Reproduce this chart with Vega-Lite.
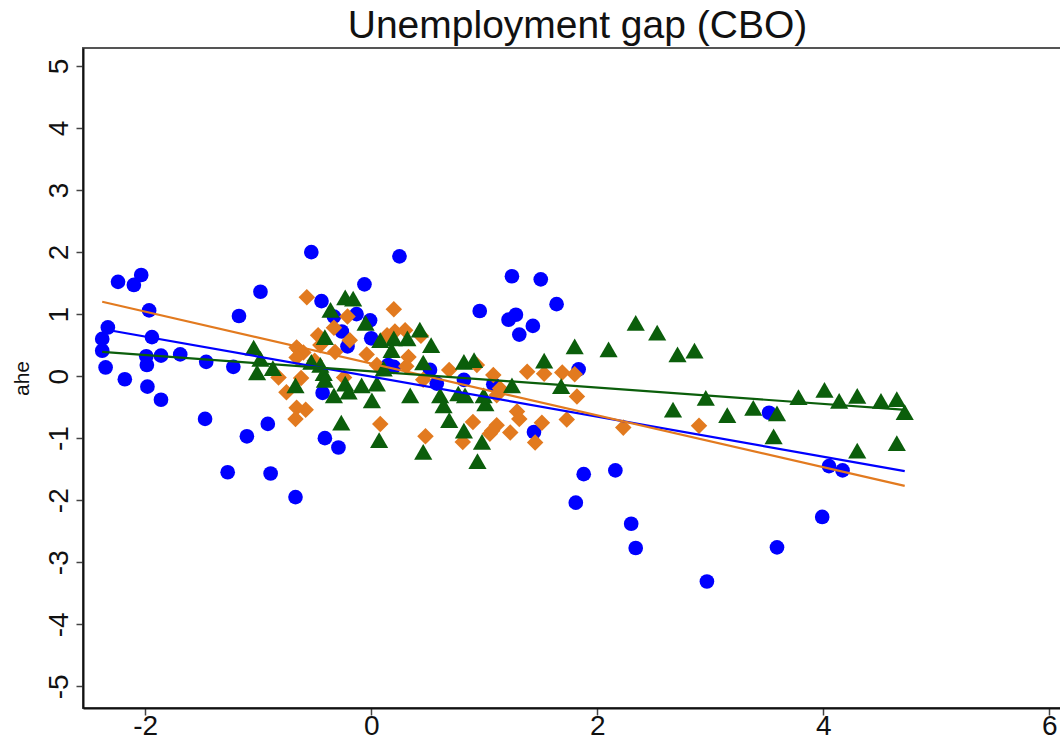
{
  "$schema": "https://vega.github.io/schema/vega-lite/v6.json",
  "width": 989,
  "height": 660,
  "autosize": "none",
  "padding": {"left": 83, "top": 48, "right": 0, "bottom": 45},
  "background": "white",
  "title": {"text": "Unemployment gap (CBO)", "fontSize": 39, "font": "Liberation Sans", "fontWeight": "normal", "color": "#111111", "anchor": "middle", "offset": 2},
  "config": {
    "locale": {"number": {"decimal": ".", "thousands": ",", "grouping": [3], "currency": ["$", ""], "minus": "-"}},
    "view": {"stroke": "#555555", "strokeWidth": 2},
    "axis": {"grid": false, "labelFont": "Liberation Sans Narrow, Liberation Sans", "titleFont": "Liberation Sans", "labelColor": "#111111", "titleColor": "#111111", "domainColor": "#111111", "domainWidth": 2, "tickColor": "#444444", "tickWidth": 1.5, "tickSize": 7}
  },
  "datasets": {
    "pts": [
      {"x": -2.38, "y": 0.60, "g": "s1"}, {"x": -2.38, "y": 0.41, "g": "s1"}, {"x": -2.33, "y": 0.785, "g": "s1"}, {"x": -2.35, "y": 0.14, "g": "s1"},
      {"x": -2.24, "y": 1.52, "g": "s1"}, {"x": -2.18, "y": -0.05, "g": "s1"}, {"x": -2.10, "y": 1.47, "g": "s1"}, {"x": -2.035, "y": 1.63, "g": "s1"},
      {"x": -1.965, "y": 1.06, "g": "s1"}, {"x": -1.94, "y": 0.63, "g": "s1"}, {"x": -1.99, "y": 0.32, "g": "s1"}, {"x": -1.985, "y": 0.18, "g": "s1"},
      {"x": -1.86, "y": 0.33, "g": "s1"}, {"x": -1.98, "y": -0.17, "g": "s1"}, {"x": -1.86, "y": -0.38, "g": "s1"}, {"x": -1.69, "y": 0.35, "g": "s1"},
      {"x": -1.46, "y": 0.23, "g": "s1"}, {"x": -1.22, "y": 0.15, "g": "s1"}, {"x": -1.17, "y": 0.97, "g": "s1"}, {"x": -0.98, "y": 1.36, "g": "s1"},
      {"x": -1.47, "y": -0.69, "g": "s1"}, {"x": -1.10, "y": -0.97, "g": "s1"}, {"x": -0.915, "y": -0.77, "g": "s1"}, {"x": -1.27, "y": -1.55, "g": "s1"},
      {"x": -0.89, "y": -1.57, "g": "s1"}, {"x": -0.67, "y": -1.95, "g": "s1"}, {"x": -0.53, "y": 2.00, "g": "s1"}, {"x": -0.44, "y": 1.21, "g": "s1"},
      {"x": -0.06, "y": 1.48, "g": "s1"}, {"x": -0.41, "y": -1.0, "g": "s1"}, {"x": -0.29, "y": -1.15, "g": "s1"}, {"x": -0.43, "y": -0.27, "g": "s1"},
      {"x": -0.33, "y": 0.96, "g": "s1"}, {"x": -0.13, "y": 1.0, "g": "s1"}, {"x": -0.26, "y": 0.72, "g": "s1"}, {"x": -0.01, "y": 0.90, "g": "s1"},
      {"x": 0.0, "y": 0.61, "g": "s1"}, {"x": -0.21, "y": 0.48, "g": "s1"}, {"x": 0.15, "y": 0.18, "g": "s1"}, {"x": 0.20, "y": 0.15, "g": "s1"},
      {"x": 0.52, "y": 0.10, "g": "s1"}, {"x": 0.58, "y": -0.12, "g": "s1"}, {"x": 0.82, "y": -0.06, "g": "s1"}, {"x": 1.08, "y": -0.13, "g": "s1"},
      {"x": 0.96, "y": 1.05, "g": "s1"}, {"x": 1.245, "y": 1.61, "g": "s1"}, {"x": 1.50, "y": 1.56, "g": "s1"}, {"x": 1.64, "y": 1.16, "g": "s1"},
      {"x": 1.215, "y": 0.91, "g": "s1"}, {"x": 1.28, "y": 0.99, "g": "s1"}, {"x": 1.43, "y": 0.81, "g": "s1"}, {"x": 1.31, "y": 0.67, "g": "s1"},
      {"x": 1.835, "y": 0.11, "g": "s1"}, {"x": 1.44, "y": -0.90, "g": "s1"}, {"x": 1.88, "y": -1.58, "g": "s1"}, {"x": 2.16, "y": -1.52, "g": "s1"},
      {"x": 1.81, "y": -2.04, "g": "s1"}, {"x": 2.30, "y": -2.38, "g": "s1"}, {"x": 2.34, "y": -2.77, "g": "s1"}, {"x": 2.97, "y": -3.31, "g": "s1"},
      {"x": 3.52, "y": -0.59, "g": "s1"}, {"x": 4.05, "y": -1.45, "g": "s1"}, {"x": 4.17, "y": -1.52, "g": "s1"}, {"x": 3.99, "y": -2.27, "g": "s1"},
      {"x": 3.59, "y": -2.76, "g": "s1"}, {"x": 0.25, "y": 1.93, "g": "s1"},

      {"x": -0.57, "y": 1.27, "g": "s2"}, {"x": -0.21, "y": 0.96, "g": "s2"}, {"x": -0.33, "y": 0.78, "g": "s2"}, {"x": -0.19, "y": 0.58, "g": "s2"},
      {"x": -0.47, "y": 0.66, "g": "s2"}, {"x": -0.64, "y": 0.42, "g": "s2"}, {"x": -0.66, "y": 0.46, "g": "s2"}, {"x": -0.60, "y": 0.38, "g": "s2"},
      {"x": -0.66, "y": 0.30, "g": "s2"}, {"x": -0.32, "y": 0.39, "g": "s2"}, {"x": -0.45, "y": 0.50, "g": "s2"}, {"x": -0.04, "y": 0.35, "g": "s2"},
      {"x": -0.50, "y": 0.25, "g": "s2"}, {"x": -0.82, "y": -0.02, "g": "s2"}, {"x": -0.62, "y": -0.03, "g": "s2"}, {"x": -0.24, "y": -0.02, "g": "s2"},
      {"x": -0.75, "y": -0.26, "g": "s2"}, {"x": -0.58, "y": -0.54, "g": "s2"}, {"x": -0.66, "y": -0.51, "g": "s2"}, {"x": -0.67, "y": -0.69, "g": "s2"},
      {"x": 0.08, "y": -0.77, "g": "s2"}, {"x": 0.20, "y": 1.08, "g": "s2"}, {"x": 0.14, "y": 0.66, "g": "s2"}, {"x": 0.21, "y": 0.72, "g": "s2"},
      {"x": 0.30, "y": 0.74, "g": "s2"}, {"x": 0.44, "y": 0.65, "g": "s2"}, {"x": 0.33, "y": 0.31, "g": "s2"}, {"x": 0.31, "y": 0.16, "g": "s2"},
      {"x": 0.05, "y": 0.18, "g": "s2"}, {"x": 0.46, "y": -0.06, "g": "s2"}, {"x": 0.69, "y": 0.10, "g": "s2"}, {"x": 0.935, "y": 0.18, "g": "s2"},
      {"x": 1.08, "y": 0.02, "g": "s2"}, {"x": 1.38, "y": 0.07, "g": "s2"}, {"x": 1.53, "y": 0.04, "g": "s2"}, {"x": 1.69, "y": 0.06, "g": "s2"},
      {"x": 1.80, "y": 0.03, "g": "s2"}, {"x": 1.82, "y": -0.33, "g": "s2"}, {"x": 1.73, "y": -0.70, "g": "s2"}, {"x": 2.23, "y": -0.83, "g": "s2"},
      {"x": 2.90, "y": -0.80, "g": "s2"}, {"x": 0.48, "y": -0.97, "g": "s2"}, {"x": 0.90, "y": -0.74, "g": "s2"}, {"x": 0.81, "y": -1.06, "g": "s2"},
      {"x": 1.05, "y": -0.93, "g": "s2"}, {"x": 1.11, "y": -0.79, "g": "s2"}, {"x": 1.11, "y": -0.31, "g": "s2"}, {"x": 1.14, "y": -0.20, "g": "s2"},
      {"x": 1.29, "y": -0.57, "g": "s2"}, {"x": 1.31, "y": -0.69, "g": "s2"}, {"x": 1.51, "y": -0.75, "g": "s2"}, {"x": 1.07, "y": -0.88, "g": "s2"},
      {"x": 1.23, "y": -0.91, "g": "s2"}, {"x": 1.45, "y": -1.07, "g": "s2"},

      {"x": -1.04, "y": 0.46, "g": "s3"}, {"x": -0.98, "y": 0.28, "g": "s3"}, {"x": -1.01, "y": 0.06, "g": "s3"}, {"x": -0.87, "y": 0.13, "g": "s3"},
      {"x": -0.53, "y": 0.23, "g": "s3"}, {"x": -0.45, "y": 0.18, "g": "s3"}, {"x": -0.42, "y": 0.05, "g": "s3"}, {"x": -0.23, "y": 1.27, "g": "s3"},
      {"x": -0.16, "y": 1.25, "g": "s3"}, {"x": -0.36, "y": 1.07, "g": "s3"}, {"x": -0.05, "y": 0.86, "g": "s3"}, {"x": -0.41, "y": 0.63, "g": "s3"},
      {"x": -0.67, "y": -0.15, "g": "s3"}, {"x": -0.41, "y": -0.06, "g": "s3"}, {"x": -0.33, "y": -0.31, "g": "s3"}, {"x": -0.23, "y": -0.12, "g": "s3"},
      {"x": -0.20, "y": -0.25, "g": "s3"}, {"x": -0.085, "y": -0.15, "g": "s3"}, {"x": 0.006, "y": -0.39, "g": "s3"}, {"x": -0.265, "y": -0.75, "g": "s3"},
      {"x": 0.07, "y": -1.03, "g": "s3"}, {"x": 0.05, "y": -0.12, "g": "s3"}, {"x": 0.345, "y": -0.31, "g": "s3"}, {"x": 0.61, "y": -0.31, "g": "s3"},
      {"x": 0.64, "y": -0.47, "g": "s3"}, {"x": 0.77, "y": -0.28, "g": "s3"}, {"x": 0.83, "y": -0.31, "g": "s3"}, {"x": 0.995, "y": -0.31, "g": "s3"},
      {"x": 1.01, "y": -0.44, "g": "s3"}, {"x": 0.69, "y": -0.71, "g": "s3"}, {"x": 0.82, "y": -0.88, "g": "s3"}, {"x": 0.46, "y": -1.22, "g": "s3"},
      {"x": 0.98, "y": -1.06, "g": "s3"}, {"x": 0.94, "y": -1.37, "g": "s3"}, {"x": 0.43, "y": 0.75, "g": "s3"}, {"x": 0.08, "y": 0.58, "g": "s3"},
      {"x": 0.20, "y": 0.61, "g": "s3"}, {"x": 0.18, "y": 0.42, "g": "s3"}, {"x": 0.32, "y": 0.61, "g": "s3"}, {"x": 0.53, "y": 0.50, "g": "s3"},
      {"x": 0.11, "y": 0.12, "g": "s3"}, {"x": 0.46, "y": 0.22, "g": "s3"}, {"x": 0.82, "y": 0.23, "g": "s3"}, {"x": 0.91, "y": 0.26, "g": "s3"},
      {"x": 1.53, "y": 0.25, "g": "s3"}, {"x": 1.80, "y": 0.48, "g": "s3"}, {"x": 1.245, "y": -0.15, "g": "s3"}, {"x": 1.68, "y": -0.16, "g": "s3"},
      {"x": 2.34, "y": 0.86, "g": "s3"}, {"x": 2.53, "y": 0.70, "g": "s3"}, {"x": 2.10, "y": 0.43, "g": "s3"}, {"x": 2.71, "y": 0.35, "g": "s3"},
      {"x": 2.86, "y": 0.41, "g": "s3"}, {"x": 2.67, "y": -0.54, "g": "s3"}, {"x": 2.96, "y": -0.35, "g": "s3"}, {"x": 3.15, "y": -0.63, "g": "s3"},
      {"x": 3.38, "y": -0.51, "g": "s3"}, {"x": 3.59, "y": -0.60, "g": "s3"}, {"x": 3.56, "y": -0.97, "g": "s3"}, {"x": 3.78, "y": -0.34, "g": "s3"},
      {"x": 4.01, "y": -0.22, "g": "s3"}, {"x": 4.14, "y": -0.40, "g": "s3"}, {"x": 4.30, "y": -0.32, "g": "s3"}, {"x": 4.51, "y": -0.40, "g": "s3"},
      {"x": 4.65, "y": -0.37, "g": "s3"}, {"x": 4.65, "y": -1.08, "g": "s3"}, {"x": 4.30, "y": -1.20, "g": "s3"}, {"x": 4.72, "y": -0.58, "g": "s3"}
    ],
    "fits": [
      {"x": -2.38, "y": 0.76, "g": "s1"}, {"x": 4.72, "y": -1.53, "g": "s1"},
      {"x": -2.38, "y": 1.20, "g": "s2"}, {"x": 4.72, "y": -1.77, "g": "s2"},
      {"x": -2.38, "y": 0.39, "g": "s3"}, {"x": 4.70, "y": -0.54, "g": "s3"}
    ]
  },
  "layer": [
    {
      "data": {"name": "pts"},
      "mark": {"type": "point", "filled": true, "opacity": 1, "strokeWidth": 0},
      "encoding": {
        "x": {"field": "x", "type": "quantitative", "scale": {"domain": [-2.55, 6.2], "nice": false, "zero": false},
              "axis": {"values": [-2, 0, 2, 4, 6], "format": "d", "title": null, "labelFontSize": 28, "labelPadding": -3, "labelFlush": false}},
        "y": {"field": "y", "type": "quantitative", "scale": {"domain": [-5.35, 5.29], "nice": false, "zero": false},
              "axis": {"values": [-5, -4, -3, -2, -1, 0, 1, 2, 3, 4, 5], "format": "d", "title": "ahe", "titleFontSize": 21, "titleFontWeight": "normal", "titlePadding": 13,
                       "labelFontSize": 28, "labelAngle": 270, "labelAlign": "center", "labelBaseline": "alphabetic", "labelPadding": 9}},
        "color": {"field": "g", "type": "nominal", "scale": {"domain": ["s1", "s2", "s3"], "range": ["#0000ff", "#e27a1f", "#0b5e0b"]}, "legend": null},
        "shape": {"field": "g", "type": "nominal", "scale": {"domain": ["s1", "s2", "s3"], "range": ["circle", "diamond", "triangle-up"]}, "legend": null},
        "size": {"field": "g", "type": "nominal", "scale": {"domain": ["s1", "s2", "s3"], "range": [215, 330, 290]}, "legend": null}
      }
    },
    {
      "data": {"name": "fits"},
      "mark": {"type": "line", "strokeWidth": 2.2},
      "encoding": {
        "x": {"field": "x", "type": "quantitative"},
        "y": {"field": "y", "type": "quantitative"},
        "color": {"field": "g", "type": "nominal", "legend": null}
      }
    }
  ]
}
